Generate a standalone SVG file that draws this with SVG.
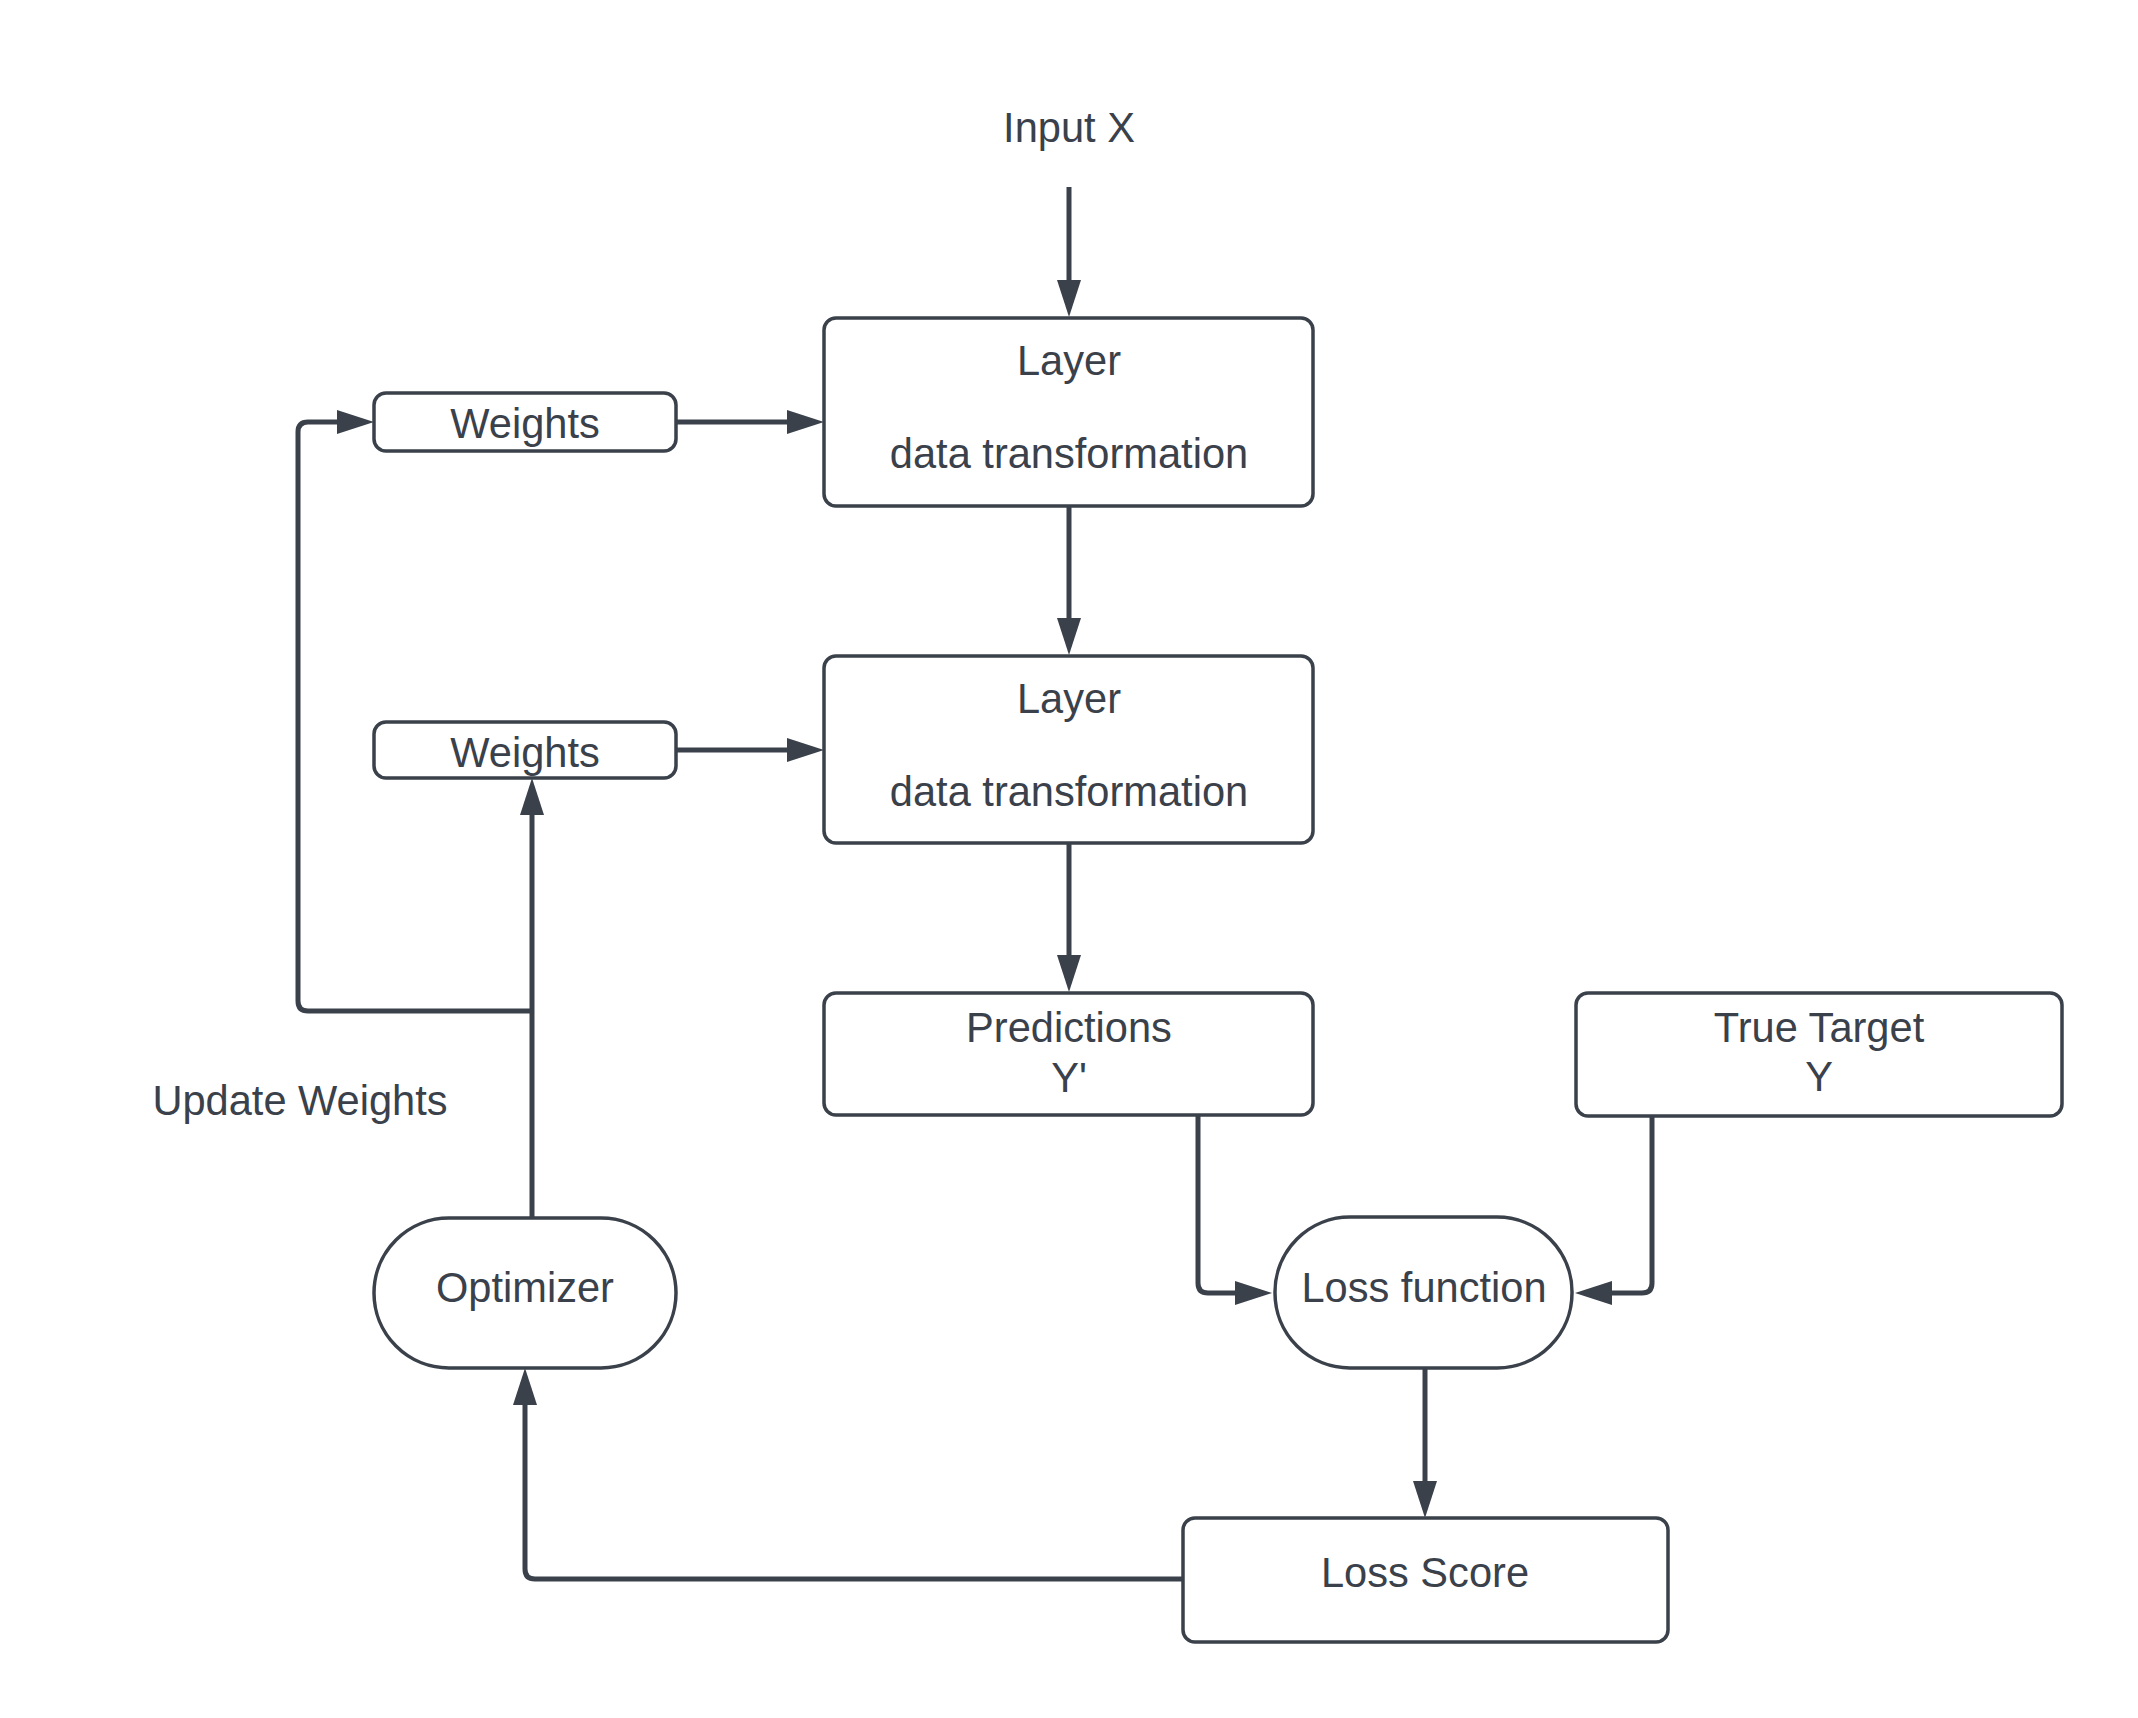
<svg xmlns="http://www.w3.org/2000/svg" width="2138" height="1718" viewBox="0 0 2138 1718">
<style>
.box{fill:#ffffff;stroke:#3a414a;stroke-width:3.5}
.lbl{font-family:"Liberation Sans",Arial,sans-serif;font-size:41.6px;fill:#3a414a;text-anchor:middle}
.conn{fill:none;stroke:#3a414a;stroke-width:5;marker-end:url(#arr)}
</style>
<defs>
<marker id="arr" markerUnits="userSpaceOnUse" markerWidth="38" markerHeight="26" refX="0" refY="12.5" orient="auto">
<path d="M0,0.5 L37,12.5 L0,24.5 Z" fill="#3a414a"/>
</marker>
</defs>
<rect width="2138" height="1718" fill="#ffffff"/>
<g id="connectors">
<path class="conn" d="M1069,187 V280"/>
<path class="conn" d="M1069,506 V618"/>
<path class="conn" d="M1069,843 V955"/>
<path class="conn" d="M676,422 H787"/>
<path class="conn" d="M676,750 H787"/>
<path class="conn" d="M532,1218 V815"/>
<path class="conn" d="M532,1011 H308 Q298,1011 298,1001 V432 Q298,422 308,422 H337"/>
<path class="conn" d="M1198,1115 V1283 Q1198,1293 1208,1293 H1235"/>
<path class="conn" d="M1652,1117 V1283 Q1652,1293 1642,1293 H1612"/>
<path class="conn" d="M1425,1368 V1481"/>
<path class="conn" d="M1183,1579 H535 Q525,1579 525,1569 V1405"/>
</g>
<g id="input-x"><text class="lbl" x="1069" y="142">Input X</text></g>
<g id="layer1">
<rect class="box" x="824" y="318" width="489" height="188" rx="12"/>
<text class="lbl" x="1069" y="375">Layer</text>
<text class="lbl" x="1069" y="468">data transformation</text>
</g>
<g id="layer2">
<rect class="box" x="824" y="656" width="489" height="187" rx="12"/>
<text class="lbl" x="1069" y="713">Layer</text>
<text class="lbl" x="1069" y="806">data transformation</text>
</g>
<g id="weights1">
<rect class="box" x="374" y="393" width="302" height="58" rx="12"/>
<text class="lbl" x="525" y="438">Weights</text>
</g>
<g id="weights2">
<rect class="box" x="374" y="722" width="302" height="56" rx="12"/>
<text class="lbl" x="525" y="767">Weights</text>
</g>
<g id="predictions">
<rect class="box" x="824" y="993" width="489" height="122" rx="12"/>
<text class="lbl" x="1069" y="1042">Predictions</text>
<text class="lbl" x="1069" y="1092">Y'</text>
</g>
<g id="true-target">
<rect class="box" x="1576" y="993" width="486" height="123" rx="12"/>
<text class="lbl" x="1819" y="1042">True Target</text>
<text class="lbl" x="1819" y="1091">Y</text>
</g>
<g id="loss-function">
<rect class="box" x="1275" y="1217" width="297" height="151" rx="75"/>
<text class="lbl" x="1424" y="1302">Loss function</text>
</g>
<g id="optimizer">
<rect class="box" x="374" y="1218" width="302" height="150" rx="75"/>
<text class="lbl" x="525" y="1302">Optimizer</text>
</g>
<g id="loss-score">
<rect class="box" x="1183" y="1518" width="485" height="124" rx="12"/>
<text class="lbl" x="1425" y="1587">Loss Score</text>
</g>
<g id="update-weights"><text class="lbl" x="300" y="1115">Update Weights</text></g>
</svg>
